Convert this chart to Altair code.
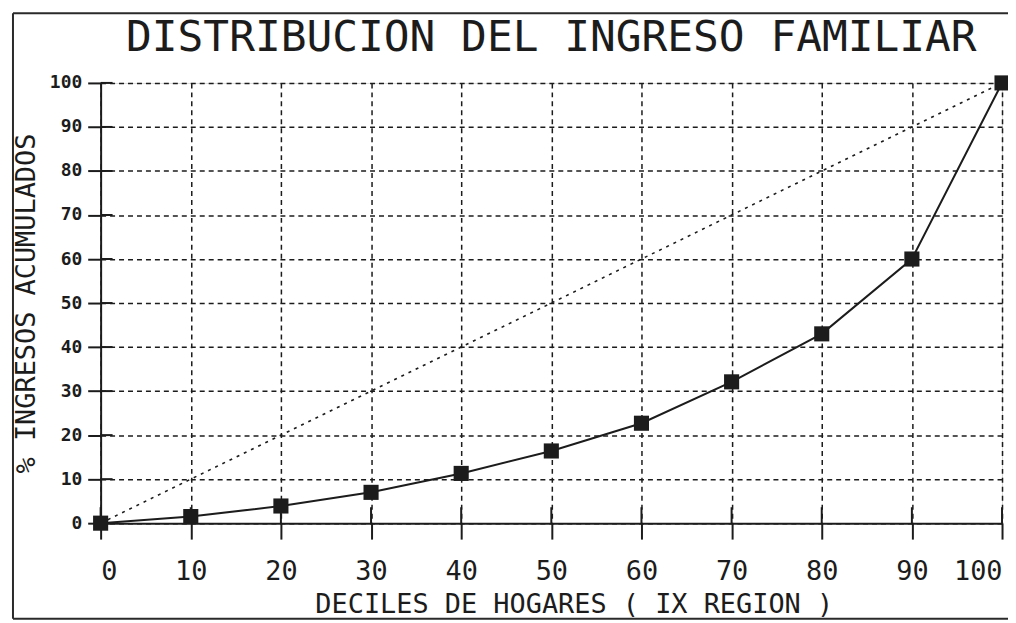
import altair as alt
import pandas as pd

# ---- data ----
deciles = [0, 10, 20, 30, 40, 50, 60, 70, 80, 90, 100]
ingresos = [0, 1.5, 3.9, 7.0, 11.3, 16.4, 22.7, 32.1, 43.0, 60.0, 100.0]
igualdad_x = [0, 100]
igualdad_y = [0, 100]
ticks_x = [0, 10, 20, 30, 40, 50, 60, 70, 80, 90, 100]
ticks_y = [0, 10, 20, 30, 40, 50, 60, 70, 80, 90, 100]

titulo = "DISTRIBUCION DEL INGRESO FAMILIAR"
titulo_x = "DECILES DE HOGARES ( IX REGION )"
titulo_y = "% INGRESOS ACUMULADOS"

W, H = 905, 442
INK = "#1c1c1c"
FONT = "DejaVu Sans Mono"

curve = pd.DataFrame({"decil": deciles, "ingreso": ingresos})
diag = pd.DataFrame({"decil": igualdad_x, "ingreso": igualdad_y})
tx = pd.DataFrame({"decil": ticks_x})
ty = pd.DataFrame({"ingreso": ticks_y})
one = pd.DataFrame({"k": [0]})

xscale = alt.Scale(domain=[0, 100], nice=False, zero=False)
yscale = alt.Scale(domain=[0, 100], nice=False, zero=False)

xaxis = alt.Axis(
    values=ticks_x, grid=True, gridDash=[5, 4], gridColor=INK, gridWidth=1.5, gridOpacity=1,
    domainColor=INK, domainWidth=2, tickColor=INK, tickWidth=2, tickSize=16,
    labelPadding=20, labelFont=FONT, labelFontSize=27, labelColor=INK, labelFlush=True,
    title=titulo_x, titleFont=FONT, titleFontSize=27, titleFontWeight="normal", titleColor=INK,
    titleX=475, titleY=82, titleAlign="center", titleBaseline="middle",
)
yaxis = alt.Axis(
    values=ticks_y, grid=True, gridDash=[5, 4], gridColor=INK, gridWidth=1.5, gridOpacity=1,
    domainColor=INK, domainWidth=2, tickColor=INK, tickWidth=2, tickSize=13,
    labelPadding=6, labelFont=FONT, labelFontSize=18, labelFontWeight="bold", labelColor=INK,
    labelFlush=False,
    title=titulo_y, titleFont=FONT, titleFontSize=27, titleFontWeight="normal", titleColor=INK,
    titleX=-74, titleY=H / 2, titleAlign="center", titleBaseline="middle", titleAngle=270,
)

X = alt.X("decil:Q", scale=xscale, axis=xaxis)
Y = alt.Y("ingreso:Q", scale=yscale, axis=yaxis)

frame_style = dict(color="#2a2a2a", strokeWidth=2)
frame_top = alt.Chart(one).mark_rule(**frame_style).encode(
    x=alt.value(-88), x2=alt.value(913), y=alt.value(-70)
)
frame_left = alt.Chart(one).mark_rule(**frame_style).encode(
    x=alt.value(-88), y=alt.value(-70), y2=alt.value(538)
)
frame_bottom = alt.Chart(one).mark_rule(**frame_style).encode(
    x=alt.value(-88), x2=alt.value(913), y=alt.value(538)
)

inner_x = alt.Chart(tx).mark_rule(color=INK, strokeWidth=2).encode(
    x=X, y=alt.value(H), y2=alt.value(H - 16)
)
inner_y = alt.Chart(ty).mark_rule(color=INK, strokeWidth=2).encode(
    y=Y, x=alt.value(0), x2=alt.value(12)
)

diagonal = alt.Chart(diag).mark_line(color=INK, strokeWidth=1.6, strokeDash=[3, 5]).encode(x=X, y=Y)

line = alt.Chart(curve).mark_line(color=INK, strokeWidth=2).encode(x=X, y=Y)
points = alt.Chart(curve).mark_point(shape="square", filled=True, size=230, color=INK, opacity=1).encode(x=X, y=Y)

chart = alt.layer(frame_top, frame_left, frame_bottom, inner_x, inner_y, diagonal, line, points).properties(
    width=W, height=H,
    title=alt.Title(titulo, font=FONT, fontSize=43, fontWeight="normal", color=INK,
                    anchor="middle", offset=-48),
    autosize=alt.AutoSizeParams(type="none"),
    padding={"left": 93, "top": 74, "right": 6, "bottom": 97},
).configure_view(stroke=None).configure(background="white")

chart.save("out.html", embed_options={"renderer": "svg", "actions": False})
